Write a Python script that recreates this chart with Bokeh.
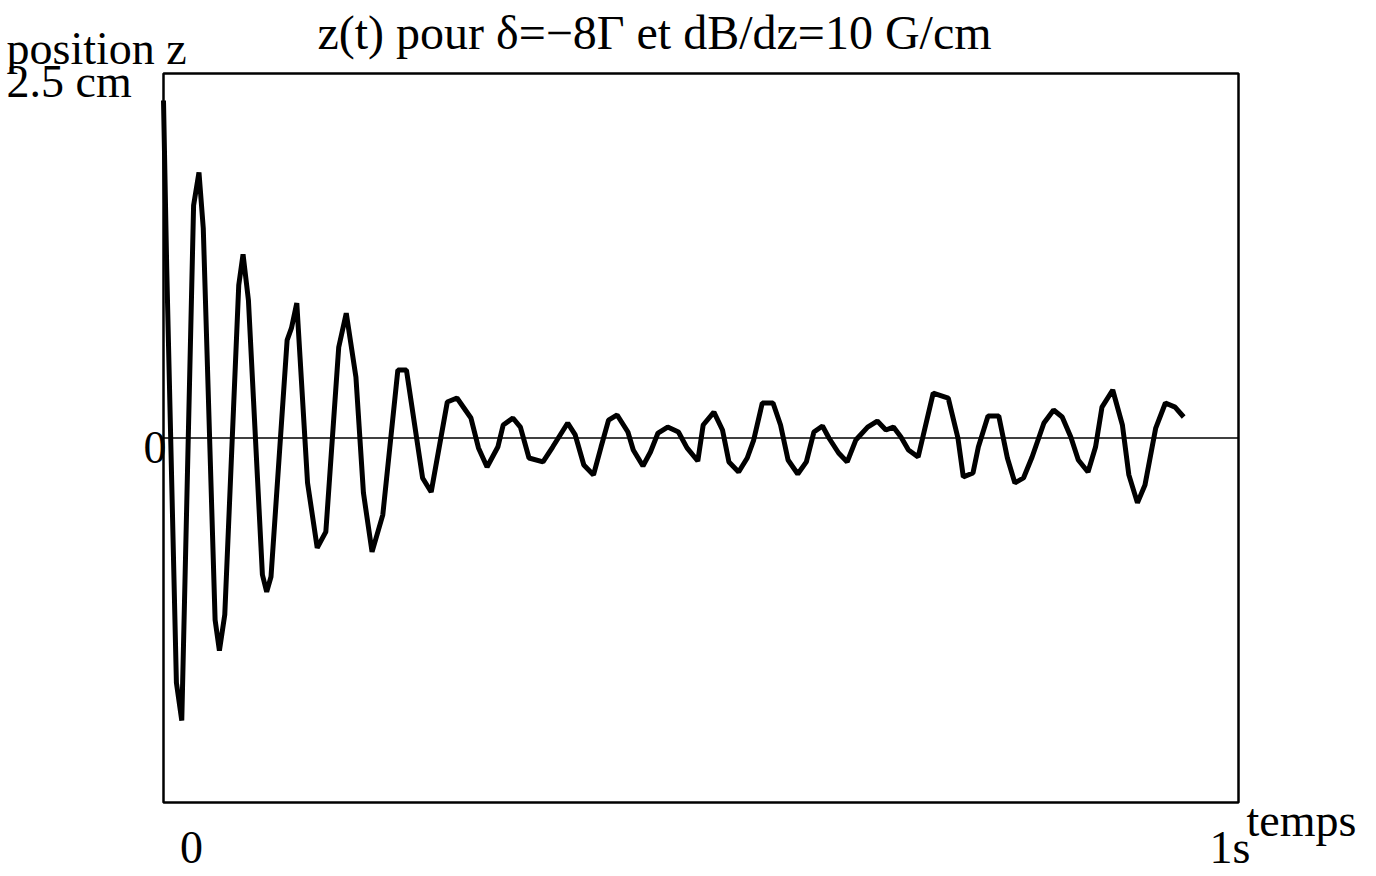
from bokeh.plotting import figure
from bokeh.models import Range1d, Label
from bokeh.embed import file_html
from bokeh.resources import INLINE

# time (s) and position z (cm)
t = [0.000, 0.003, 0.012, 0.017, 0.028, 0.033, 0.037, 0.048, 0.052, 0.057,
     0.070, 0.074, 0.079, 0.092, 0.096, 0.100, 0.115, 0.119, 0.124, 0.127,
     0.134, 0.143, 0.151, 0.163, 0.170, 0.179, 0.186, 0.194, 0.204, 0.218,
     0.226, 0.241, 0.249, 0.264, 0.273, 0.286, 0.293, 0.301, 0.311, 0.316,
     0.325, 0.332, 0.340, 0.353, 0.362, 0.376, 0.383, 0.391, 0.400, 0.407,
     0.414, 0.422, 0.432, 0.437, 0.446, 0.453, 0.460, 0.469, 0.479, 0.487,
     0.497, 0.502, 0.512, 0.520, 0.526, 0.535, 0.543, 0.549, 0.557, 0.567,
     0.574, 0.581, 0.590, 0.598, 0.605, 0.613, 0.619, 0.628, 0.636, 0.644,
     0.655, 0.664, 0.672, 0.679, 0.686, 0.693, 0.702, 0.716, 0.730, 0.739,
     0.744, 0.753, 0.758, 0.767, 0.777, 0.785, 0.792, 0.800, 0.808, 0.819,
     0.828, 0.836, 0.844, 0.851, 0.860, 0.867, 0.873, 0.883, 0.892, 0.898,
     0.906, 0.913, 0.923, 0.932, 0.941, 0.949]
z = [2.315, 1.164, -1.678, -1.938, 1.596, 1.822, 1.438, -1.247, -1.459, -1.212,
     1.048, 1.260, 0.945, -0.938, -1.055, -0.952, 0.671, 0.753, 0.925, 0.555,
     -0.308, -0.753, -0.644, 0.623, 0.856, 0.418, -0.377, -0.781, -0.527, 0.466,
     0.466, -0.274, -0.370, 0.247, 0.274, 0.137, -0.068, -0.199, -0.062, 0.089,
     0.137, 0.075, -0.137, -0.164, -0.062, 0.103, 0.021, -0.185, -0.253, -0.062,
     0.123, 0.158, 0.041, -0.082, -0.192, -0.096, 0.034, 0.075, 0.041, -0.068,
     -0.158, 0.089, 0.178, 0.055, -0.164, -0.233, -0.137, -0.014, 0.240, 0.240,
     0.089, -0.151, -0.247, -0.164, 0.041, 0.082, 0.000, -0.103, -0.164, -0.014,
     0.075, 0.116, 0.055, 0.075, 0.007, -0.082, -0.130, 0.308, 0.274, 0.000,
     -0.267, -0.240, -0.062, 0.151, 0.151, -0.137, -0.308, -0.274, -0.130, 0.103,
     0.192, 0.144, 0.007, -0.151, -0.233, -0.062, 0.212, 0.329, 0.089, -0.253,
     -0.445, -0.322, 0.068, 0.240, 0.212, 0.144]

# axis limits (data units) and texts
t_min, t_max = 0.0, 1.0
z_min, z_max = -2.5, 2.5
title_text = "z(t) pour δ=−8Γ et dB/dz=10 G/cm"
y_label_1 = "position z"
y_label_2 = "2.5 cm"
x_label = "temps"
x_tick_start = "0"
x_tick_end = "1s"
y_tick_zero = "0"

W, H = 1376, 876
FL, FR, FT, FB = 163, 1238, 73, 802   # where the box sits on the page (px)
sx = (FR - FL) / (t_max - t_min)      # px per second
sy = (FB - FT) / (z_max - z_min)      # px per cm
x_range = Range1d(t_min - FL / sx, t_max + (W - FR) / sx)
y_range = Range1d(z_min - (H - FB) / sy, z_max + FT / sy)

p = figure(width=W, height=H, output_backend="svg", toolbar_location=None,
           x_range=x_range, y_range=y_range,
           x_axis_location=None, y_axis_location=None, title=None,
           min_border=0, min_border_left=0, min_border_right=0,
           min_border_top=0, min_border_bottom=0)
p.grid.visible = False
p.background_fill_color = "white"
p.border_fill_color = "white"
p.outline_line_color = None

# plot box and zero line
p.quad(left=[t_min], right=[t_max], bottom=[z_min], top=[z_max],
       fill_color=None, line_color="black", line_width=2.5)
p.segment(x0=[t_min], x1=[t_max], y0=[0], y1=[0], line_color="black", line_width=1.5)
p.line(t, z, line_color="black", line_width=5)

FONT = "Liberation Serif"
BASE_FIX = 16  # rendered baseline sits this many px below the requested one

def lab(text, X, Y, size, align="left"):
    # page pixel position (X, baseline Y) -> data coordinates
    Y = Y - BASE_FIX
    p.add_layout(Label(x=t_min + (X - FL) / sx, y=z_max - (Y - FT) / sy,
                       text=text, text_font=FONT, text_font_size=f"{size}px",
                       text_color="black", text_align=align,
                       text_baseline="alphabetic"))

lab(title_text, 654, 48, 48, "center")
lab(y_label_1, 6, 64, 46)
lab(y_label_2, 6, 97, 46)
lab(y_tick_zero, 166, 463, 46, "right")
lab(x_tick_start, 191, 863, 46, "center")
lab(x_tick_end, 1209, 863, 46)
lab(x_label, 1246, 836, 46)

open("out.html", "w").write(file_html(p, INLINE))
